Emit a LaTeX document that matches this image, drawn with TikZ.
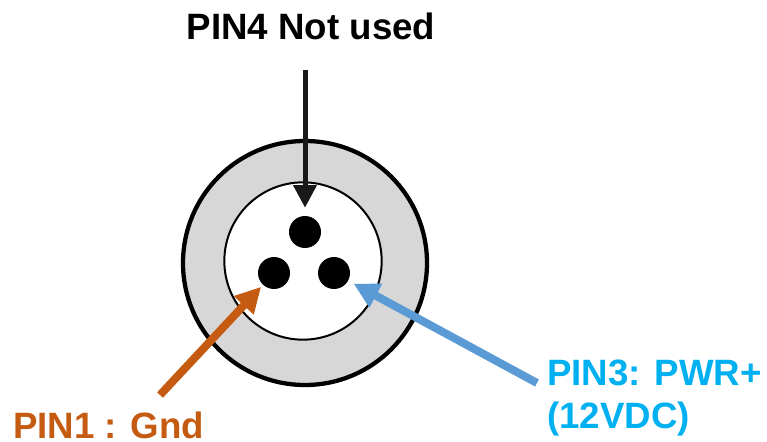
\documentclass[tikz,border=0pt]{standalone}
\usepackage{fontspec}
\setmainfont{Liberation Sans}
\usepackage{xcolor}
\usetikzlibrary{positioning, arrows.meta}
\definecolor{gndorange}{HTML}{C55A11}
\definecolor{pwrblue}{HTML}{5B9BD5}
\definecolor{pwrtext}{HTML}{00B0F0}
\definecolor{ringgray}{HTML}{D7D7D7}

\begin{document}
\begin{tikzpicture}[x=0.75pt,y=-0.75pt,
                  label/.style={inner sep=0pt,font=\bfseries\fontsize{27.5}{32.25}\selectfont},
                  pin/.style={circle,fill=black,inner sep=0pt,minimum size=24pt},
                  pointer/.style={-{Triangle[length=19pt,width=19pt]},line width=6pt},
                  pointerthin/.style={-{Triangle[length=17pt,width=17pt]},line width=3.75pt}
                  ]
                  \useasboundingbox (0,0) rectangle (767,442);
                  % connector body
                  \node[circle,draw=black,fill=ringgray,line width=3.2pt,inner sep=0pt,
                    minimum size=183pt] (shell) at (305,263) {};
                  \node[circle,draw=black,line width=1.5pt,fill=white,inner sep=0pt,
                    minimum size=118pt] (socket) at (303,261) {};

                  \node[pin] (pin4) at (305,232) {};
                  \node[pin] (pin1) at (274,273) {};
                  \node[pin] (pin3) at (334,273) {};

                  % labels
                  \node[label,anchor=base] (l4) at (311,40) {PIN4 Not used};
                  \node[label,anchor=base west,text=gndorange] (l1) at (13,438) {PIN1 : Gnd};
                  \node[label,anchor=base west,text=pwrtext,align=left] (l3) at (547,428)
                    {PIN3: PWR+\\(12VDC)};

                  % pointers
                  \coordinate (t4) at (305,70);
                  \coordinate (t1) at (160,395);
                  \coordinate (t3) at (537,383);
                  \draw[pointerthin,black!90,shorten >=6pt] (t4) -- (pin4);
                  \draw[pointer,gndorange,shorten >=2pt] (t1) -- (pin1);
                  \draw[pointer,pwrblue,shorten >=4.5pt] (t3) -- (pin3);
                \end{tikzpicture}
\end{document}
